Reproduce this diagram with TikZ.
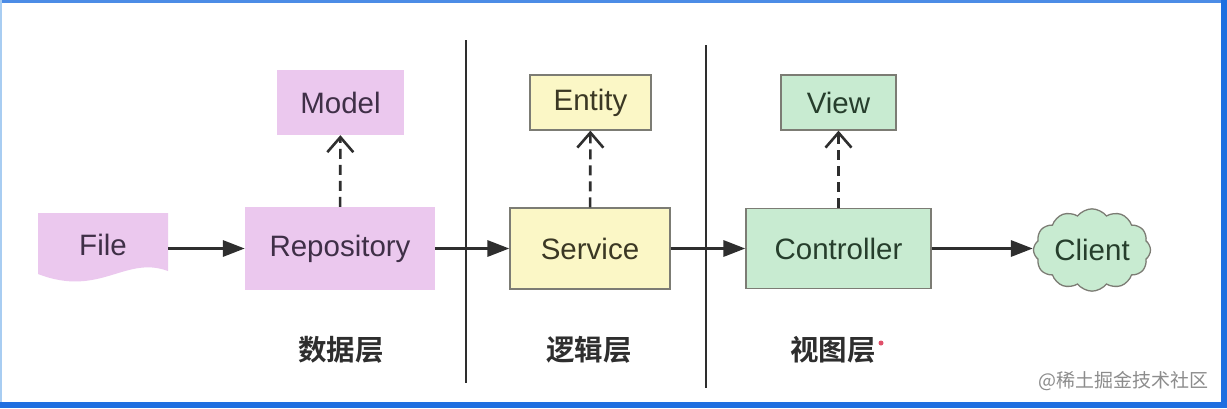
\documentclass[tikz,border=0pt]{standalone}
\usepackage{fontspec}
\setmainfont{Liberation Sans}
\newfontfamily\cjk{Noto Sans CJK SC}[BoldFont={Noto Sans CJK SC Bold}]
\usetikzlibrary{arrows.meta,shapes.symbols}

\definecolor{pinkfill}{HTML}{EBC8EE}
\definecolor{pinktext}{HTML}{3F2F47}
\definecolor{yellowfill}{HTML}{FBF7C6}
\definecolor{yellowtext}{HTML}{3B3824}
\definecolor{greenfill}{HTML}{C8EBD1}
\definecolor{greentext}{HTML}{263E2C}
\definecolor{boxline}{HTML}{7C7C74}
\definecolor{arrowline}{HTML}{2E2E2E}
\definecolor{framedark}{HTML}{1F6FE0}
\definecolor{framelight}{HTML}{A8CDF2}
\definecolor{reddot}{HTML}{E0506A}

\tikzset{
  label font/.style={font=\fontsize{29.5}{34}\selectfont},
  datanode/.style={label font, fill=pinkfill, text=pinktext, inner sep=0pt},
  logicnode/.style={label font, fill=yellowfill, draw=boxline, line width=1.3pt, text=yellowtext, inner sep=0pt},
  viewnode/.style={label font, fill=greenfill, draw=boxline, line width=1.3pt, text=greentext, inner sep=0pt},
  flow/.style={draw=arrowline, line width=3.2pt, -{Triangle[length=22pt,width=16pt]}},
  uses/.style={draw=arrowline, line width=2.6pt, dash pattern=on 10pt off 6pt,
    -{Straight Barb[length=15pt,width=26pt,line width=2.6pt]}},
  layerline/.style={draw=arrowline, line width=2.4pt},
  layer/.style={font=\cjk\bfseries\fontsize{28.5}{32}\selectfont, text=black!82},
}

\begin{document}
\begin{tikzpicture}[x=1pt,y=-1pt]
  % screen frame
  \useasboundingbox (0,0) rectangle (1227,408);
  \fill[white] (0,0) rectangle (1227,408);
  \fill[framedark!80] (0,0) rectangle (1227,3);
  \fill[framelight] (0,0) rectangle (1.5,408);
  \fill[framedark] (1221,0) rectangle (1227,408);
  \fill[framedark] (0,402) rectangle (1227,408);

  % file shape with wavy bottom
  \fill[pinkfill] (38,213) -- (168,213) -- (168,271)
    .. controls (125,255) and (100,298) .. (38,274) -- cycle;

  \node (file) at (103,245) [label font, text=pinktext, minimum width=130pt] {File};
  \node (repo) at (340,248.5) [datanode, minimum width=190pt, minimum height=83pt] {Repository};
  \node (model) at (340.5,102.5) [datanode, minimum width=127pt, minimum height=65pt] {Model};

  \node (service) at (590,248.5) [logicnode, minimum width=160pt, minimum height=81pt] {Service};
  \node (entity) at (590.5,102.5) [logicnode, minimum width=121pt, minimum height=55pt] {Entity};

  \node (ctrl) at (838.5,248.5) [viewnode, minimum width=185pt, minimum height=80pt] {Controller};
  \node (view) at (838.5,102.5) [viewnode, minimum width=115pt, minimum height=55pt] {View};

  \node (client) at (1092,250) [viewnode, cloud, cloud puffs=12, cloud puff arc=105, aspect=1.5,
    minimum width=117pt, minimum height=76pt] {Client};

  % layer separators
  \draw[layerline] (466,40) -- (466,383);
  \draw[layerline] (706,45) -- (706,388);

  \node (datalayer) at (341,350) [layer] {数据层};
  \node (logiclayer) at (589,350) [layer] {逻辑层};
  \node (viewlayer) at (833,350) [layer] {视图层};
  \node (mark) at (881,343) [circle, fill=reddot, inner sep=0pt, minimum size=5pt] {};

  \node (juejin) at (1212,381) [anchor=east, text=black!45, font=\cjk\fontsize{19}{22}\selectfont] {@稀土掘金技术社区};

  % main flow
  \draw[flow] (file.east |- repo.west) -- (repo.west);
  \draw[flow] (repo.east) -- (service.west);
  \draw[flow] (service.east) -- (ctrl.west);
  \draw[flow] (ctrl.east) -- (ctrl.east -| client.west);

  % dependencies
  \draw[uses] (repo) -- (model);
  \draw[uses] (service) -- (entity);
  \draw[uses] (ctrl) -- (view);
\end{tikzpicture}
\end{document}
